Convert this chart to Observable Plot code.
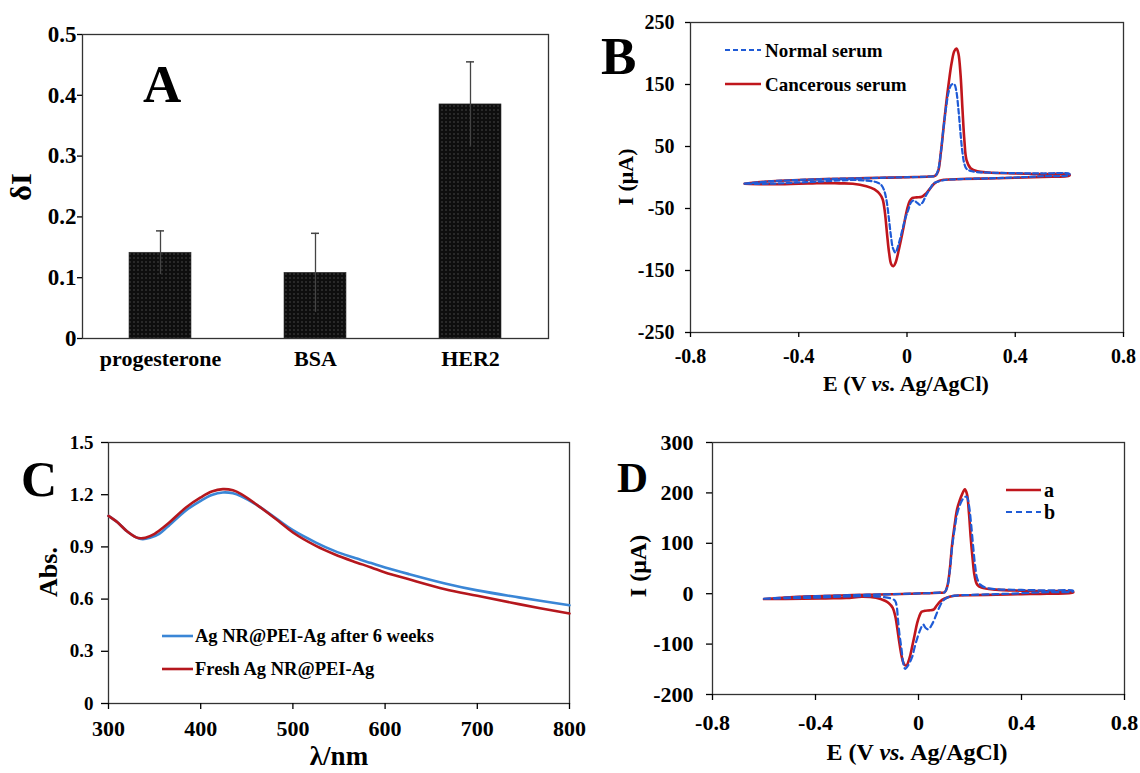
<!DOCTYPE html>
<html>
<head>
<meta charset="utf-8">
<script src="https://cdn.jsdelivr.net/npm/d3@7"></script>
<script src="https://cdn.jsdelivr.net/npm/@observablehq/plot@0.6"></script>
<style>
  body { margin: 0; background: #fff; }
  #wrap { position: relative; width: 1140px; height: 773px; background: #fff; overflow: hidden; }
  #wrap svg { position: absolute; }
  #wrap svg text { font-family: 'Liberation Serif','Times New Roman',serif; font-weight: bold; }
  .ov text { fill: #000; }
</style>
</head>
<body>
<div id="wrap"></div>
<script>
// ---------- Panel A data ----------
const categories = ["progesterone", "BSA", "HER2"];
const deltaI = [0.141, 0.108, 0.385];
const deltaIErr = [0.036, 0.065, 0.070];
const aYTicks = [0, 0.1, 0.2, 0.3, 0.4, 0.5];

// ---------- Panel B data (E in V, I in µA), loop order ----------
const normalSerum = [
  [-0.6,-10],[-0.5,-6],[-0.4,-4],[-0.3,-2.5],[-0.2,-1.5],[-0.1,-0.5],[0,0.5],[0.08,1.5],[0.105,3],
  [0.115,12],[0.125,40],[0.135,80],[0.145,115],[0.155,140],[0.165,150],[0.175,150],[0.182,140],
  [0.19,110],[0.198,70],[0.205,40],[0.212,22],[0.22,14],[0.24,10],[0.3,8],[0.4,7],[0.5,6.5],[0.6,6],
  [0.6,4],[0.5,2],[0.4,0],[0.3,-1.5],[0.2,-2.5],[0.14,-4],[0.12,-6],[0.1,-9],[0.085,-18],[0.07,-29],
  [0.058,-40],[0.048,-44],[0.038,-41],[0.025,-37],[0.015,-40],[0.005,-52],[-0.005,-64],[-0.018,-86],
  [-0.03,-106],[-0.043,-121],[-0.052,-114],[-0.06,-92],[-0.068,-62],[-0.076,-36],[-0.085,-20],
  [-0.095,-12],[-0.11,-8],[-0.15,-5],[-0.2,-4],[-0.3,-6],[-0.4,-8],[-0.5,-10],[-0.6,-10]
];
const cancerousSerum = [
  [-0.6,-10],[-0.5,-6],[-0.4,-4],[-0.3,-2.5],[-0.2,-1.5],[-0.1,-0.5],[0,0.5],[0.08,1.5],[0.105,3],
  [0.115,10],[0.125,40],[0.135,80],[0.145,120],[0.155,155],[0.165,185],[0.175,204],[0.183,208],
  [0.19,200],[0.198,165],[0.205,110],[0.212,60],[0.22,28],[0.235,15],[0.26,10],[0.3,8],[0.4,6.5],
  [0.5,5.5],[0.6,5],
  [0.6,3],[0.5,1],[0.4,-0.5],[0.3,-1.5],[0.2,-2.5],[0.14,-3.5],[0.12,-5],[0.1,-10],[0.085,-18],
  [0.07,-26],[0.055,-31],[0.035,-32],[0.02,-33],[0.01,-38],[0,-52],[-0.015,-85],[-0.03,-116],
  [-0.042,-137],[-0.05,-143],[-0.058,-140],[-0.066,-122],[-0.074,-90],[-0.082,-55],[-0.09,-35],
  [-0.1,-27],[-0.12,-19],[-0.15,-14],[-0.2,-10],[-0.25,-9.5],[-0.3,-9],[-0.35,-9.5],[-0.4,-10],
  [-0.5,-11],[-0.6,-10]
];
const bXTicks = [-0.8, -0.4, 0, 0.4, 0.8];
const bYTicks = [-250, -150, -50, 50, 150, 250];

// ---------- Panel C data (wavelength nm, absorbance) ----------
const after6Weeks = [
  [300,1.078],[310,1.04],[320,0.99],[330,0.955],[337,0.944],[345,0.952],[355,0.975],[364,1.015],
  [384,1.11],[400,1.165],[412,1.198],[424,1.213],[435,1.208],[444,1.19],[464,1.13],[484,1.055],
  [500,0.996],[525,0.925],[545,0.877],[565,0.84],[585,0.807],[600,0.782],[625,0.745],[665,0.69],
  [700,0.65],[745,0.61],[800,0.565]
];
const freshAg = [
  [300,1.078],[310,1.04],[320,0.99],[330,0.955],[335,0.95],[340,0.953],[350,0.975],[364,1.031],
  [384,1.126],[400,1.184],[412,1.218],[424,1.232],[435,1.225],[444,1.203],[464,1.13],[484,1.05],
  [500,0.983],[525,0.906],[545,0.858],[565,0.818],[585,0.782],[600,0.753],[625,0.715],[665,0.657],
  [700,0.619],[745,0.571],[800,0.517]
];
const cXTicks = [300, 400, 500, 600, 700, 800];
const cYTicks = [0, 0.3, 0.6, 0.9, 1.2, 1.5];

// ---------- Panel D data ----------
const curveA = [
  [-0.6,-10.6],[-0.5,-7],[-0.4,-5],[-0.3,-3.5],[-0.2,-2],[-0.1,-1],[0,0.5],[0.08,2],[0.102,3],
  [0.112,15],[0.122,50],[0.13,95],[0.14,135],[0.15,168],[0.16,185],[0.17,198],[0.18,207],[0.188,198],
  [0.196,160],[0.203,110],[0.21,70],[0.218,35],[0.228,18],[0.245,12],[0.3,8],[0.4,6],[0.5,5],[0.6,4],
  [0.6,2],[0.5,0],[0.4,-1],[0.3,-2],[0.2,-3],[0.14,-4],[0.12,-6],[0.1,-10],[0.085,-15],[0.07,-24],
  [0.06,-31],[0.045,-33],[0.025,-34],[0.012,-36],[0.003,-45],[-0.005,-58],[-0.015,-82],[-0.025,-106],
  [-0.035,-128],[-0.048,-143],[-0.058,-138],[-0.067,-120],[-0.075,-95],[-0.082,-70],[-0.09,-45],
  [-0.1,-28],[-0.115,-19],[-0.13,-14],[-0.165,-8],[-0.22,-6],[-0.28,-8.6],[-0.36,-9.2],[-0.45,-10],
  [-0.6,-10.6]
];
const curveB = [
  [-0.6,-10],[-0.5,-7],[-0.4,-5],[-0.3,-3.5],[-0.2,-2],[-0.1,-1],[0,0.5],[0.08,2],[0.102,3],
  [0.112,14],[0.122,48],[0.13,90],[0.14,128],[0.15,158],[0.16,175],[0.17,186],[0.18,192],[0.188,192],
  [0.196,175],[0.204,140],[0.212,95],[0.22,55],[0.228,30],[0.24,18],[0.26,12],[0.3,9],[0.4,7.5],
  [0.5,6.5],[0.6,6],
  [0.6,4.6],[0.5,3],[0.4,1],[0.3,-1],[0.2,-2.5],[0.14,-4],[0.12,-6],[0.102,-10.6],[0.09,-18],
  [0.081,-27],[0.07,-40],[0.06,-53],[0.05,-63],[0.039,-71],[0.028,-68],[0.018,-61],[0.008,-70],
  [-0.004,-87],[-0.015,-106],[-0.025,-126],[-0.04,-142],[-0.052,-149],[-0.06,-135],[-0.066,-110],
  [-0.074,-80],[-0.08,-50],[-0.084,-27],[-0.09,-15],[-0.1,-10.6],[-0.151,-6],[-0.2,-5],[-0.3,-6],
  [-0.4,-8],[-0.5,-9],[-0.6,-10]
];
const dXTicks = [-0.8, -0.4, 0, 0.4, 0.8];
const dYTicks = [-200, -100, 0, 100, 200, 300];

// ---------- helpers ----------
const FONT = "'Liberation Serif','Times New Roman',serif";
const wrap = document.getElementById("wrap");
const toXY = arr => arr.map(([x, y]) => ({x, y}));
function put(svg, left, top) {
  svg.style.left = left + "px";
  svg.style.top = top + "px";
  svg.style.maxWidth = "none";
  svg.setAttribute("font-family", FONT);
  wrap.appendChild(svg);
}
const baseStyle = size => ({fontFamily: FONT, fontWeight: "bold", fontSize: size + "px", color: "#000", background: "transparent", overflow: "visible"});
const fmt = d => String(d);

// ---------- Panel A ----------
const dataA = categories.map((c, i) => ({c, v: deltaI[i], e: deltaIErr[i]}));
const svgA = Plot.plot({
  width: 570, height: 400, marginLeft: 82, marginRight: 22, marginTop: 34, marginBottom: 62,
  style: baseStyle(22),
  x: {domain: categories, paddingInner: 0.6, paddingOuter: 0.3, label: null},
  y: {domain: [0, 0.5], label: null},
  marks: [
    Plot.barY(dataA, {x: "c", y: "v", fill: "url(#dotsA)", stroke: "#333", strokeWidth: 0.6}),
    Plot.ruleX(dataA, {x: "c", y1: d => d.v - d.e, y2: d => d.v + d.e, stroke: "#444", strokeWidth: 1.3}),
    Plot.tickY(dataA, {x: "c", y: d => d.v + d.e, stroke: "#444", strokeWidth: 1.5, inset: 27}),
    Plot.frame({stroke: "#333", strokeWidth: 1.3}),
    Plot.axisY({ticks: aYTicks, tickFormat: fmt, tickSize: 5, tickPadding: 1, fontSize: 23, strokeWidth: 1.3, label: null}),
    Plot.axisX({tickSize: 0, tickPadding: 12, fontSize: 22, label: null})
  ]
});
d3.select(svgA).insert("defs", ":first-child").html(
  '<pattern id="dotsA" width="4" height="4" patternUnits="userSpaceOnUse">' +
  '<rect width="4" height="4" fill="#0e0e0e"></rect>' +
  '<rect x="1.5" y="1.5" width="1" height="1" fill="#7a7a7a"></rect></pattern>');
put(svgA, 0, 0);

// ---------- Panel B ----------
const svgB = Plot.plot({
  width: 570, height: 400, marginLeft: 120, marginRight: 17, marginTop: 22, marginBottom: 68,
  style: baseStyle(20),
  x: {domain: [-0.8, 0.8], label: null},
  y: {domain: [-250, 250], label: null},
  marks: [
    Plot.frame({stroke: "#333", strokeWidth: 1.3}),
    Plot.line(toXY(cancerousSerum), {x: "x", y: "y", stroke: "#c0161c", strokeWidth: 2.6, curve: "catmull-rom"}),
    Plot.line(toXY(normalSerum), {x: "x", y: "y", stroke: "#1f5bd6", strokeWidth: 2.2, strokeDasharray: "5,3", curve: "catmull-rom"}),
    Plot.axisY({ticks: bYTicks, tickFormat: fmt, tickSize: 5, tickPadding: 11, strokeWidth: 1.3, label: null}),
    Plot.axisX({ticks: bXTicks, tickFormat: fmt, tickSize: 5, tickPadding: 11, strokeWidth: 1.3, label: null})
  ]
});
put(svgB, 570, 0);

// ---------- Panel C ----------
const svgC = Plot.plot({
  width: 580, height: 373, marginLeft: 108, marginRight: 11, marginTop: 42, marginBottom: 70,
  style: baseStyle(19),
  x: {domain: [300, 800], label: null},
  y: {domain: [0, 1.5], label: null},
  marks: [
    Plot.frame({stroke: "#333", strokeWidth: 1.3}),
    Plot.line(toXY(after6Weeks), {x: "x", y: "y", stroke: "#3a86d6", strokeWidth: 2.6, curve: "catmull-rom"}),
    Plot.line(toXY(freshAg), {x: "x", y: "y", stroke: "#b5171d", strokeWidth: 2.6, curve: "catmull-rom"}),
    Plot.axisY({ticks: cYTicks, tickFormat: fmt, tickSize: 7, tickPadding: 8, fontSize: 19, strokeWidth: 1.3, label: null}),
    Plot.axisX({ticks: cXTicks, tickFormat: fmt, tickSize: 6, tickPadding: 11, fontSize: 22, strokeWidth: 1.3, label: null})
  ]
});
put(svgC, 0, 400);

// ---------- Panel D ----------
const svgD = Plot.plot({
  width: 560, height: 373, marginLeft: 132, marginRight: 16, marginTop: 42, marginBottom: 79,
  style: baseStyle(22),
  x: {domain: [-0.8, 0.8], label: null},
  y: {domain: [-200, 300], label: null},
  marks: [
    Plot.frame({stroke: "#333", strokeWidth: 1.3}),
    Plot.line(toXY(curveA), {x: "x", y: "y", stroke: "#c0161c", strokeWidth: 2.6, curve: "catmull-rom"}),
    Plot.line(toXY(curveB), {x: "x", y: "y", stroke: "#1f5bd6", strokeWidth: 2.2, strokeDasharray: "6,4", curve: "catmull-rom"}),
    Plot.axisY({ticks: dYTicks, tickFormat: fmt, tickSize: 6, tickPadding: 13, strokeWidth: 1.3, label: null}),
    Plot.axisX({ticks: dXTicks, tickFormat: fmt, tickSize: 6, tickPadding: 14, strokeWidth: 1.3, label: null})
  ]
});
put(svgD, 580, 400);

// ---------- Overlay: panel letters, axis titles, legends ----------
const ov = d3.select(wrap).append("svg").attr("class", "ov")
  .attr("width", 1140).attr("height", 773).attr("font-family", FONT).attr("font-weight", "bold")
  .style("left", "0px").style("top", "0px").style("pointer-events", "none");

function txt(x, y, s, size, opts = {}) {
  const t = ov.append("text").attr("font-size", size).attr("text-anchor", opts.anchor || "start");
  if (opts.rotate) t.attr("transform", `translate(${x},${y}) rotate(-90)`).attr("dy", "0.35em");
  else t.attr("x", x).attr("y", y).attr("dy", opts.dy || null);
  return t.text(s);
}
function legLine(x1, x2, y, color, width, dash) {
  ov.append("line").attr("x1", x1).attr("x2", x2).attr("y1", y).attr("y2", y)
    .attr("stroke", color).attr("stroke-width", width).attr("stroke-dasharray", dash || null);
}
function evsTitle(cx, cy, size) {
  const t = ov.append("text").attr("x", cx).attr("y", cy).attr("dy", "0.35em")
    .attr("text-anchor", "middle").attr("font-size", size);
  t.append("tspan").text("E (V ");
  t.append("tspan").attr("font-style", "italic").text("vs.");
  t.append("tspan").text(" Ag/AgCl)");
}

// A
txt(143, 102, "A", 53);
txt(20, 187, "δI", 30, {rotate: true, anchor: "middle"});
// B
txt(601, 74, "B", 53);
txt(625, 177, "I (μA)", 22, {rotate: true, anchor: "middle"});
evsTitle(906, 383, 22);
legLine(725, 761, 50, "#1f5bd6", 2.2, "5,3");
txt(765, 50, "Normal serum", 19, {dy: "0.35em"});
legLine(725, 761, 84, "#c0161c", 2.6);
txt(765, 84, "Cancerous serum", 19, {dy: "0.35em"});
// C
txt(21, 496, "C", 50);
txt(48, 572, "Abs.", 26, {rotate: true, anchor: "middle"});
txt(339, 765, "λ/nm", 27, {anchor: "middle"});
legLine(162, 193, 636, "#3a86d6", 2.6);
txt(195, 636, "Ag NR@PEI-Ag after 6 weeks", 18.5, {dy: "0.35em"});
legLine(162, 193, 669, "#b5171d", 2.6);
txt(195, 669, "Fresh Ag NR@PEI-Ag", 18.5, {dy: "0.35em"});
// D
txt(617, 492, "D", 43);
txt(638, 566, "I (μA)", 24, {rotate: true, anchor: "middle"});
evsTitle(917, 752, 24);
legLine(1006, 1041, 490, "#c0161c", 2.6);
txt(1044, 490, "a", 20, {dy: "0.35em"});
legLine(1006, 1041, 512, "#1f5bd6", 2.2, "6,4");
txt(1044, 512, "b", 20, {dy: "0.35em"});
</script>
</body>
</html>
